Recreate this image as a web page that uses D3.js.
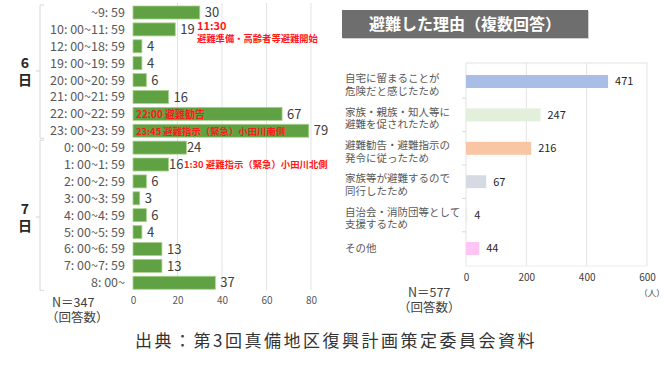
<!DOCTYPE html>
<html><head><meta charset="utf-8">
<script src="https://cdn.jsdelivr.net/npm/d3@7"></script>
<style>
html,body{margin:0;padding:0;background:#fff;}
svg{display:block;font-family:"Noto Sans CJK JP","Noto Sans",sans-serif;}
</style></head>
<body>
<script>
// ---- Data ----
const day6Labels = ["~9: 59","10: 00~11: 59","12: 00~18: 59","19: 00~19: 59","20: 00~20: 59","21: 00~21: 59","22: 00~22: 59","23: 00~23: 59"];
const day6Values = [30,19,4,4,6,16,67,79];
const day7Labels = ["0: 00~0: 59","1: 00~1: 59","2: 00~2: 59","3: 00~3: 59","4: 00~4: 59","5: 00~5: 59","6: 00~6: 59","7: 00~7: 59","8: 00~"];
const day7Values = [24,16,6,3,6,4,13,13,37];
const leftTicks = [0,20,40,60,80];

const reasonLabels = [["自宅に留まることが","危険だと感じたため"],["家族・親族・知人等に","避難を促されたため"],["避難勧告・避難指示の","発令に従ったため"],["家族等が避難するので","同行したため"],["自治会・消防団等として","支援するため"],["その他"]];
const reasonValues = [471,247,216,67,4,44];
const reasonColors = ["#a9bde6","#e2efda","#f8c6a4","#d5dae3","#e8e8e8","#ffc5f5"];
const rightTicks = [0,200,400,600];

const W = 670, H = 379;
const svg = d3.select("body").append("svg").attr("width", W).attr("height", H);

// ---- Left chart ----
const leftCats = day6Labels.concat(day7Labels);
const leftVals = day6Values.concat(day7Values);
const xL = d3.scaleLinear().domain([0, 80]).range([133, 311]);
const yL = d3.scaleBand().domain(leftCats).range([4.06, 291.2]).paddingInner(0.23).paddingOuter(0.115);

const gL = svg.append("g");
gL.selectAll("line.grid").data(leftTicks.filter(d => d > 0)).join("line")
  .attr("x1", d => xL(d)).attr("x2", d => xL(d)).attr("y1", 3).attr("y2", 290)
  .attr("stroke", "#e3e3e3").attr("stroke-width", 1);

gL.selectAll("rect.bar").data(leftCats).join("rect")
  .attr("x", xL(0)).attr("y", d => yL(d))
  .attr("width", (d, i) => xL(leftVals[i]) - xL(0)).attr("height", yL.bandwidth())
  .attr("fill", "#5fa143").attr("stroke", "#a9d18e").attr("stroke-width", 0.8);

const tight = new Set([day7Labels[0], day7Labels[1]]);
gL.selectAll("text.val").data(leftCats).join("text")
  .attr("x", (d, i) => xL(leftVals[i]) + (tight.has(d) ? 0.5 : 5))
  .attr("y", d => yL(d) + yL.bandwidth() / 2)
  .attr("dy", "0.36em").attr("font-size", 13).attr("fill", "#404040")
  .text((d, i) => leftVals[i]);

gL.selectAll("text.cat").data(leftCats).join("text")
  .attr("x", 125).attr("y", d => yL(d) + yL.bandwidth() / 2)
  .attr("dy", "0.36em").attr("text-anchor", "end").attr("font-size", 12.5).attr("fill", "#595959")
  .text(d => d);

// x axis tick labels
const axL = d3.axisBottom(xL).tickValues(leftTicks).tickSize(0).tickPadding(0);
const axLg = gL.append("g").attr("transform", "translate(0,297)").call(axL);
axLg.select(".domain").remove();
axLg.selectAll("text").attr("font-size", 10).attr("fill", "#595959").attr("font-family", "Noto Sans CJK JP");

// day brackets
function bracket(y1, y2, ym, label) {
  const g = gL.append("g").attr("stroke", "#d6d6d6").attr("fill", "none").attr("stroke-width", 1);
  g.append("path").attr("d", `M44,${y1}H40V${y2}H44`);
  g.append("path").attr("d", `M40,${ym}H36`);
  gL.append("text").attr("x", 25).attr("y", ym - 3).attr("text-anchor", "middle")
    .attr("font-size", 14).attr("font-weight", "bold").attr("fill", "#262626").text(label[0]);
  gL.append("text").attr("x", 25).attr("y", ym + 14).attr("text-anchor", "middle")
    .attr("font-size", 14).attr("font-weight", "bold").attr("fill", "#262626").text(label[1]);
}
bracket(yL(day6Labels[0]) - 1, yL(day6Labels[7]) + yL.bandwidth() + 1, 71, ["6", "日"]);
bracket(yL(day7Labels[0]) - 1, yL(day7Labels[8]) + yL.bandwidth() + 1, 217, ["7", "日"]);

// red annotations
const red = "#ff1a1a";
function rowY(c) { return yL(c) + yL.bandwidth() / 2; }
gL.append("text").attr("x", 197).attr("y", rowY(day6Labels[1]) - 3).attr("dy", "0.36em")
  .attr("font-size", 11).attr("font-weight", "bold").attr("fill", red).text("11:30");
gL.append("text").attr("x", 197).attr("y", rowY(day6Labels[1]) + 9).attr("dy", "0.36em")
  .attr("font-size", 9.3).attr("font-weight", "bold").attr("fill", red).text("避難準備・高齢者等避難開始");
gL.append("text").attr("x", 136).attr("y", rowY(day6Labels[6]) + 0.5).attr("dy", "0.36em")
  .attr("font-size", 10).attr("font-weight", "bold").attr("fill", red).text("22:00 避難勧告");
gL.append("text").attr("x", 136).attr("y", rowY(day6Labels[7]) + 0.5).attr("dy", "0.36em")
  .attr("font-size", 9.4).attr("font-weight", "bold").attr("fill", red).text("23:45 避難指示（緊急）小田川南側");
gL.append("text").attr("x", 184).attr("y", rowY(day7Labels[1]) + 0.5).attr("dy", "0.36em")
  .attr("font-size", 9.4).attr("font-weight", "bold").attr("fill", red).text("1:30 避難指示（緊急）小田川北側");

gL.append("text").attr("x", 52).attr("y", 307).attr("font-size", 12.5).attr("fill", "#404040").text("N＝347");
gL.append("text").attr("x", 46).attr("y", 322).attr("font-size", 12.5).attr("fill", "#404040").text("（回答数）");

// ---- Right chart ----
const gR = svg.append("g");
gR.append("rect").attr("x", 343).attr("y", 11).attr("width", 246).attr("height", 28).attr("fill", "#d0d0d0");
gR.append("rect").attr("x", 342).attr("y", 10).attr("width", 246).attr("height", 28).attr("fill", "#6e6e6e");
gR.append("text").attr("x", 465).attr("y", 24).attr("dy", "0.36em").attr("text-anchor", "middle")
  .attr("font-size", 16).attr("font-weight", "bold").attr("fill", "#fff").text("避難した理由（複数回答）");

const xR = d3.scaleLinear().domain([0, 600]).range([466, 647]);
const yR = d3.scaleBand().domain(d3.range(reasonValues.length)).range([63, 267]).paddingInner(0.612).paddingOuter(0.36);

gR.selectAll("line.grid").data(rightTicks).join("line")
  .attr("x1", d => xR(d)).attr("x2", d => xR(d)).attr("y1", 63).attr("y2", 266)
  .attr("stroke", "#e3e3e3");
gR.append("line").attr("x1", xR(0)).attr("x2", xR(600)).attr("y1", 63).attr("y2", 63).attr("stroke", "#e3e3e3");
gR.append("line").attr("x1", xR(0)).attr("x2", xR(600)).attr("y1", 266).attr("y2", 266).attr("stroke", "#ececec");
// category boundary ticks
const stepR = yR.step();
gR.selectAll("line.ctick").data(d3.range(1, reasonValues.length)).join("line")
  .attr("x1", xR(0) - 4).attr("x2", xR(0)).attr("y1", d => yR(d) - (stepR - yR.bandwidth()) / 2)
  .attr("y2", d => yR(d) - (stepR - yR.bandwidth()) / 2).attr("stroke", "#d9d9d9");

gR.selectAll("rect.bar").data(reasonValues).join("rect")
  .attr("x", xR(0)).attr("y", (d, i) => yR(i))
  .attr("width", d => xR(d) - xR(0)).attr("height", yR.bandwidth())
  .attr("fill", (d, i) => reasonColors[i]);

gR.selectAll("text.val").data(reasonValues).join("text")
  .attr("x", d => xR(d) + 7).attr("y", (d, i) => yR(i) + yR.bandwidth() / 2)
  .attr("dy", "0.36em").attr("font-size", 11).attr("fill", "#262626").text(d => d);

reasonLabels.forEach((lines, i) => {
  const cy = yR(i) + yR.bandwidth() / 2;
  if (lines.length === 1) {
    gR.append("text").attr("x", 345).attr("y", cy).attr("dy", "0.36em")
      .attr("font-size", 10.5).attr("fill", "#595959").text(lines[0]);
  } else {
    gR.append("text").attr("x", 345).attr("y", cy - 3).attr("dy", "0.36em")
      .attr("font-size", 10.5).attr("fill", "#595959").text(lines[0]);
    gR.append("text").attr("x", 345).attr("y", cy + 9.5).attr("dy", "0.36em")
      .attr("font-size", 10.5).attr("fill", "#595959").text(lines[1]);
  }
});

const axR = d3.axisBottom(xR).tickValues(rightTicks).tickSize(0).tickPadding(0);
const axRg = gR.append("g").attr("transform", "translate(0,274)").call(axR);
axRg.select(".domain").remove();
axRg.selectAll("text").attr("font-size", 10).attr("fill", "#404040").attr("font-family", "Noto Sans CJK JP");

gR.append("text").attr("x", 652).attr("y", 296).attr("text-anchor", "middle").attr("font-size", 8.5).attr("fill", "#404040").text("（人）");
gR.append("text").attr("x", 408).attr("y", 297).attr("font-size", 12.5).attr("fill", "#404040").text("N＝577");
gR.append("text").attr("x", 398).attr("y", 312).attr("font-size", 12.5).attr("fill", "#404040").text("（回答数）");

// ---- Source ----
svg.append("text").attr("x", 336).attr("y", 341).attr("dy", "0.36em").attr("text-anchor", "middle")
  .attr("font-size", 17).attr("letter-spacing", 2.5).attr("fill", "#333")
  .text("出典：第3回真備地区復興計画策定委員会資料");
</script>
</body></html>
